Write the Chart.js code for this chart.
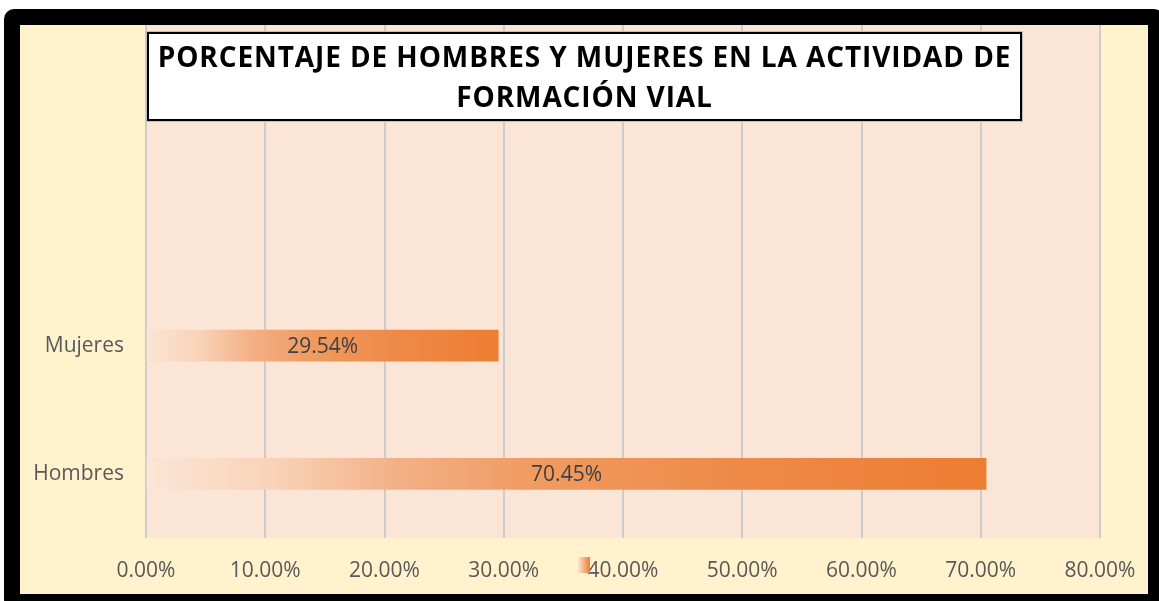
<!DOCTYPE html>
<html>
<head>
<meta charset="utf-8">
<script src="https://cdn.jsdelivr.net/npm/chart.js@4/dist/chart.umd.min.js"></script>
<style>
  html, body { margin: 0; padding: 0; background: #ffffff; overflow: hidden; width: 1159px; height: 601px; }
  #frame {
    position: absolute; left: 4px; top: 9px;
    width: 1128px; height: 569px;
    border: 16px solid #000; border-radius: 10px;
    background: #FFF2CC;
  }
  #frame canvas { position: absolute; left: 0; top: 0; }
  #title {
    position: absolute; left: 127px; top: 7px;
    width: 871px; height: 83px;
    border: 2px solid #000;
    box-shadow: 0 0 0 1px #bfbfbf;
    background: #fff;
    font-family: "Open Sans", sans-serif; font-weight: 700;
    font-size: 28px; line-height: 40px; letter-spacing: 0.9px;
    text-align: center; color: #000;
    padding-top: 2px; box-sizing: content-box;
  }
</style>
</head>
<body>
<div id="frame">
  <canvas id="c" width="1128" height="569"></canvas>
  <div id="title">PORCENTAJE DE HOMBRES Y MUJERES EN LA ACTIVIDAD DE<br>FORMACIÓN VIAL</div>
</div>
<script>
// ---- data ----
const categories = ['', '', 'Mujeres', 'Hombres'];
const values = [null, null, 29.54, 70.45];
const xTicks = [0, 10, 20, 30, 40, 50, 60, 70, 80];
const xMin = 0;
const xMax = 80;

const fmtPct = v => Number(v).toFixed(2) + '%';

Chart.defaults.font.family = '"Open Sans", sans-serif';

function barGradient(chart, x0, x1) {
  const g = chart.ctx.createLinearGradient(x0, 0, x1, 0);
  g.addColorStop(0, 'rgba(251,229,214,1)');
  g.addColorStop(0.15, '#F8D3B8');
  g.addColorStop(0.30, '#F3B086');
  g.addColorStop(0.45, '#F09C63');
  g.addColorStop(0.70, '#EE8A48');
  g.addColorStop(1, '#ED7D31');
  return g;
}

const plotBg = {
  id: 'plotBg',
  beforeDraw(chart) {
    const { ctx, chartArea: a } = chart;
    ctx.save();
    ctx.fillStyle = '#FBE5D6';
    ctx.fillRect(a.left, a.top, a.right - a.left + 1, a.bottom - a.top);
    ctx.restore();
  }
};

const valueLabels = {
  id: 'valueLabels',
  afterDatasetsDraw(chart) {
    const { ctx } = chart;
    const meta = chart.getDatasetMeta(0);
    ctx.save();
    ctx.font = '21px "Open Sans", sans-serif';
    ctx.fillStyle = '#404040';
    ctx.textAlign = 'center';
    ctx.textBaseline = 'middle';
    meta.data.forEach((el, i) => {
      const v = chart.data.datasets[0].data[i];
      if (v == null) return;
      ctx.fillText(fmtPct(v), (el.x + el.base) / 2, el.y + 1);
    });
    ctx.restore();
  }
};

const legendSwatch = {
  id: 'legendSwatch',
  afterDraw(chart) {
    const { ctx, chartArea: a } = chart;
    const cx = (a.left + a.right) / 2 - 39;
    const y = a.bottom + 19;
    const g = ctx.createLinearGradient(cx - 6, 0, cx + 6, 0);
    g.addColorStop(0, 'rgba(251,229,214,1)');
    g.addColorStop(1, '#ED7D31');
    ctx.save();
    ctx.fillStyle = g;
    ctx.fillRect(cx - 6, y, 12, 16);
    ctx.restore();
  }
};

new Chart(document.getElementById('c'), {
  type: 'bar',
  data: {
    labels: categories,
    datasets: [{
      label: '',
      data: values,
      barThickness: 31,
      borderWidth: 0,
      backgroundColor(ctx) {
        const chart = ctx.chart;
        if (!chart.chartArea || ctx.raw == null) return '#ED7D31';
        const x0 = chart.scales.x.getPixelForValue(xMin);
        const x1 = chart.scales.x.getPixelForValue(ctx.raw);
        return barGradient(chart, x0, x1);
      }
    }]
  },
  options: {
    indexAxis: 'y',
    responsive: false,
    animation: false,
    devicePixelRatio: 1,
    layout: { padding: { left: 0, right: 48, top: 0, bottom: 0 } },
    plugins: {
      legend: { display: false },
      title: { display: false },
      tooltip: { enabled: false }
    },
    scales: {
      x: {
        min: xMin, max: xMax,
        afterBuildTicks(scale) { scale.ticks = xTicks.map(v => ({ value: v })); },
        afterFit(scale) {
          scale.height = 56;
          scale.paddingLeft = 0; scale.paddingRight = 0;
          scale.paddingTop = 0; scale.paddingBottom = 0;
        },
        ticks: {
          color: '#595959',
          font: { size: 21 },
          padding: 20,
          maxRotation: 0,
          callback: v => fmtPct(v)
        },
        grid: { color: '#cccccc', lineWidth: 2, drawTicks: false },
        border: { display: false }
      },
      y: {
        afterFit(scale) {
          scale.width = 126;
          scale.paddingLeft = 0; scale.paddingRight = 0;
          scale.paddingTop = 0; scale.paddingBottom = 0;
        },
        ticks: { color: '#595959', font: { size: 21 }, padding: 22 },
        grid: { display: false, drawTicks: false },
        border: { display: false }
      }
    }
  },
  plugins: [plotBg, valueLabels, legendSwatch]
});
</script>
</body>
</html>
